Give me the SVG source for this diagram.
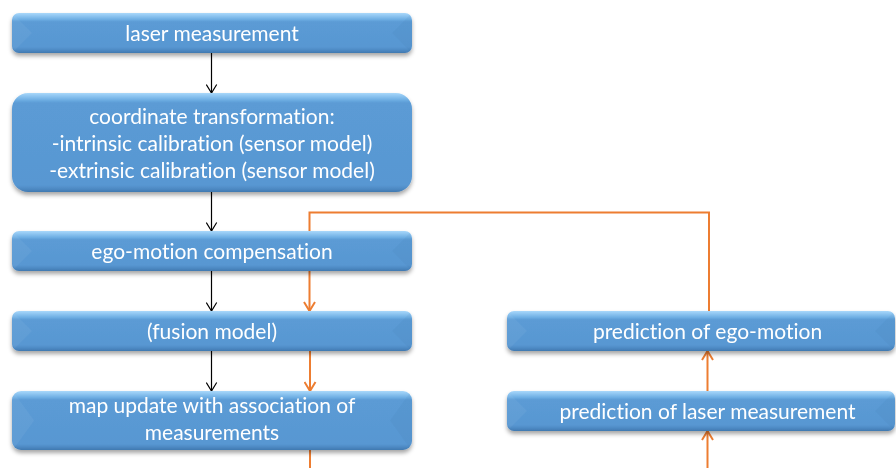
<svg xmlns="http://www.w3.org/2000/svg" width="896" height="468" viewBox="0 0 896 468">
  <style>
    .lbl { font-family: Lato, "Open Sans", "Liberation Sans", sans-serif; font-size: 21px; fill: #ffffff; text-anchor: middle; font-variant-ligatures: none; font-feature-settings: "liga" 0, "clig" 0; }
    .edge-l { fill: #ffffff; fill-opacity: 0.05; }
    .edge-r { fill: #1f4e79; fill-opacity: 0.05; }
    .flow { stroke: #000000; stroke-width: 1.2; fill: none; marker-end: url(#arrowBlack); }
    .loop { stroke: #ed7d31; stroke-width: 2; fill: none; }
    .loop-arrow { stroke: #ed7d31; stroke-width: 2; fill: none; marker-end: url(#arrowOrange); }
  </style>
  <defs>
    <filter id="shadow" x="-5%" y="-20%" width="110%" height="150%">
      <feGaussianBlur in="SourceAlpha" stdDeviation="2"/>
      <feOffset dx="0" dy="3" result="b"/>
      <feFlood flood-color="#000000" flood-opacity="0.35"/>
      <feComposite in2="b" operator="in"/>
      <feMerge>
        <feMergeNode/>
        <feMergeNode in="SourceGraphic"/>
      </feMerge>
    </filter>
    <!-- bevel shading for 40px tall boxes -->
    <linearGradient id="bevel40" x1="0" y1="0" x2="0" y2="1">
      <stop offset="0" stop-color="#a9d8fa"/>
      <stop offset="0.05" stop-color="#96cbf4"/>
      <stop offset="0.16" stop-color="#6eaee3"/>
      <stop offset="0.22" stop-color="#5b9bd5"/>
      <stop offset="0.85" stop-color="#5897d2"/>
      <stop offset="0.93" stop-color="#4d89c3"/>
      <stop offset="1" stop-color="#4179b0"/>
    </linearGradient>
    <linearGradient id="bevel59" x1="0" y1="0" x2="0" y2="1">
      <stop offset="0" stop-color="#a9d8fa"/>
      <stop offset="0.035" stop-color="#96cbf4"/>
      <stop offset="0.11" stop-color="#6eaee3"/>
      <stop offset="0.15" stop-color="#5b9bd5"/>
      <stop offset="0.9" stop-color="#5897d2"/>
      <stop offset="0.95" stop-color="#4d89c3"/>
      <stop offset="1" stop-color="#4179b0"/>
    </linearGradient>
    <linearGradient id="bevel99" x1="0" y1="0" x2="0" y2="1">
      <stop offset="0" stop-color="#a9d8fa"/>
      <stop offset="0.02" stop-color="#96cbf4"/>
      <stop offset="0.07" stop-color="#6eaee3"/>
      <stop offset="0.1" stop-color="#5b9bd5"/>
      <stop offset="0.93" stop-color="#5897d2"/>
      <stop offset="0.97" stop-color="#4d89c3"/>
      <stop offset="1" stop-color="#4179b0"/>
    </linearGradient>
    <marker id="arrowBlack" viewBox="0 0 10 12" refX="9.5" refY="6" markerWidth="10" markerHeight="12" markerUnits="userSpaceOnUse" orient="auto">
      <path d="M1,0.8 L9.5,6 L1,11.2" fill="none" stroke="#000000" stroke-width="1.2"/>
    </marker>
    <marker id="arrowOrange" viewBox="0 0 11 13" refX="10" refY="6.5" markerWidth="11" markerHeight="13" markerUnits="userSpaceOnUse" orient="auto">
      <path d="M1,1 L10,6.5 L1,12" fill="none" stroke="#ed7d31" stroke-width="2"/>
    </marker>
  </defs>

  <!-- connectors -->
  <g id="connectors">
    <line class="flow" x1="211.5" y1="53" x2="211.5" y2="93"/>
    <line class="flow" x1="211.5" y1="192" x2="211.5" y2="231"/>
    <line class="flow" x1="211.5" y1="271" x2="211.5" y2="311"/>
    <line class="flow" x1="211.5" y1="351" x2="211.5" y2="391"/>
    <!-- feedback loop from the prediction branch back into the fusion model -->
    <polyline class="loop-arrow" points="709,311 709,212.5 309.5,212.5 309.5,311"/>
    <line class="loop-arrow" x1="310" y1="351" x2="310" y2="391"/>
    <line class="loop" x1="310" y1="450" x2="310" y2="468"/>
    <line class="loop-arrow" x1="707.5" y1="468" x2="707.5" y2="431"/>
    <line class="loop-arrow" x1="707.5" y1="391" x2="707.5" y2="351"/>
  </g>

  <!-- processing nodes -->
  <g id="laser-measurement" filter="url(#shadow)">
    <rect x="12" y="13" width="400" height="40" rx="7" fill="url(#bevel40)"/>
    <polygon class="edge-l" points="14.3,15.3 32,33 14.3,50.7 12,45 12,21"/>
    <polygon class="edge-r" points="409.7,15.3 392,33 409.7,50.7 412,45 412,21"/>
    <text class="lbl" x="212" y="41">laser measurement</text>
  </g>

  <g id="coordinate-transformation" filter="url(#shadow)">
    <rect x="12" y="93" width="400" height="99" rx="16" fill="url(#bevel99)"/>
    <text class="lbl" x="212" y="124">coordinate transformation:</text>
    <text class="lbl" x="212" y="151">-intrinsic calibration (sensor model)</text>
    <text class="lbl" x="212" y="178">-extrinsic calibration (sensor model)</text>
  </g>

  <g id="ego-motion-compensation" filter="url(#shadow)">
    <rect x="12" y="231" width="400" height="40" rx="7" fill="url(#bevel40)"/>
    <polygon class="edge-l" points="14.3,233.3 32,251 14.3,268.7 12,263 12,239"/>
    <polygon class="edge-r" points="409.7,233.3 392,251 409.7,268.7 412,263 412,239"/>
    <text class="lbl" x="212" y="259">ego-motion compensation</text>
  </g>

  <g id="fusion-model" filter="url(#shadow)">
    <rect x="12" y="311" width="400" height="40" rx="7" fill="url(#bevel40)"/>
    <polygon class="edge-l" points="14.3,313.3 32,331 14.3,348.7 12,343 12,319"/>
    <polygon class="edge-r" points="409.7,313.3 392,331 409.7,348.7 412,343 412,319"/>
    <text class="lbl" x="212" y="339">(fusion model)</text>
  </g>

  <g id="map-update" filter="url(#shadow)">
    <rect x="12" y="391" width="400" height="59" rx="9" fill="url(#bevel59)"/>
    <polygon class="edge-l" points="14.6,393.6 34,420.5 14.6,447.4 12,441 12,400"/>
    <polygon class="edge-r" points="409.4,393.6 390,420.5 409.4,447.4 412,441 412,400"/>
    <text class="lbl" x="212" y="413">map update with association of</text>
    <text class="lbl" x="212" y="440">measurements</text>
  </g>

  <g id="prediction-ego-motion" filter="url(#shadow)">
    <rect x="507" y="311" width="388" height="40" rx="7" fill="url(#bevel40)"/>
    <polygon class="edge-l" points="509.3,313.3 527,331 509.3,348.7 507,343 507,319"/>
    <polygon class="edge-r" points="892.7,313.3 875,331 892.7,348.7 895,343 895,319"/>
    <text class="lbl" x="707.5" y="339">prediction of ego-motion</text>
  </g>

  <g id="prediction-laser-measurement" filter="url(#shadow)">
    <rect x="507" y="391" width="388" height="40" rx="7" fill="url(#bevel40)"/>
    <polygon class="edge-l" points="509.3,393.3 527,411 509.3,428.7 507,423 507,399"/>
    <polygon class="edge-r" points="892.7,393.3 875,411 892.7,428.7 895,423 895,399"/>
    <text class="lbl" x="707.5" y="419">prediction of laser measurement</text>
  </g>
</svg>
